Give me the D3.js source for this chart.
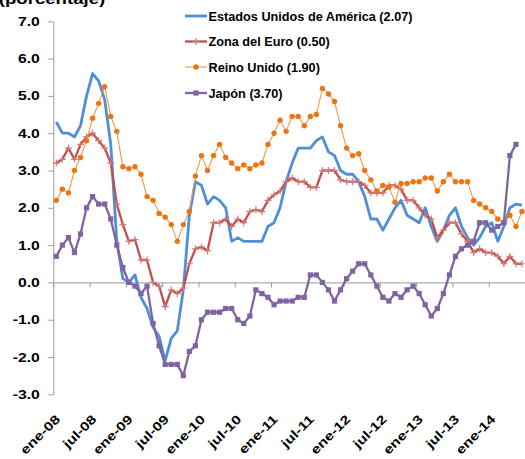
<!DOCTYPE html>
<html>
<head>
<meta charset="utf-8">
<script src="https://cdn.jsdelivr.net/npm/d3@7"></script>
<style>
  html, body { margin: 0; padding: 0; background: #fff; }
  svg { display: block; font-family: "Liberation Sans", Arial, sans-serif; }
</style>
</head>
<body>
<svg id="chart" width="525" height="459"></svg>
<script>
// ---- data ----
const monthNames = ["ene","feb","mar","abr","may","jun","jul","ago","sep","oct","nov","dic"];
const years = ["08","09","10","11","12","13","14"];
const months = [];
years.forEach(y => monthNames.forEach(m => months.push(m + "-" + y)));
months.splice(78); // ene-08 .. jun-14

const tickLabels = ["ene-08","jul-08","ene-09","jul-09","ene-10","jul-10","ene-11","jul-11","ene-12","jul-12","ene-13","jul-13","ene-14"];
const yTicks = [-3, -2, -1, 0, 1, 2, 3, 4, 5, 6, 7];

const seriesNames = ["Estados Unidos de América (2.07)", "Zona del Euro (0.50)", "Reino Unido (1.90)", "Japón (3.70)"];

const usa = [
  4.3, 4.0, 4.0, 3.9, 4.2, 5.0, 5.6, 5.4, 4.9, 3.7, 1.1, 0.1,
  0.0, 0.2, -0.4, -0.7, -1.2, -1.45, -2.1, -1.5, -1.3, -0.2, 1.8, 2.7,
  2.6, 2.1, 2.3, 2.2, 2.0, 1.1, 1.2, 1.1, 1.1, 1.1, 1.1, 1.5,
  1.6, 2.0, 2.7, 3.2, 3.6, 3.6, 3.6, 3.8, 3.9, 3.5, 3.4, 3.0,
  2.9, 2.9, 2.7, 2.3, 1.7, 1.7, 1.4, 1.7, 2.0, 2.2, 1.8, 1.7,
  1.6, 2.0, 1.5, 1.1, 1.4, 1.8, 2.0, 1.5, 1.2, 1.0, 1.2, 1.5,
  1.6, 1.1, 1.5, 2.0, 2.1, 2.07
];
const euro = [
  3.2, 3.3, 3.6, 3.3, 3.7, 3.9, 4.0, 3.8, 3.6, 3.2, 2.1, 1.55,
  1.1, 1.15, 0.6, 0.6, 0.0, -0.1, -0.65, -0.2, -0.3, -0.15, 0.5, 0.9,
  0.95, 0.85, 1.6, 1.6, 1.7, 1.5, 1.7, 1.6, 1.9, 1.95, 1.9, 2.2,
  2.35, 2.45, 2.7, 2.8, 2.7, 2.7, 2.55, 2.55, 3.0, 3.0, 3.0, 2.75,
  2.7, 2.7, 2.7, 2.6, 2.4, 2.4, 2.4, 2.6, 2.6, 2.5, 2.2, 2.2,
  2.0, 1.8, 1.7, 1.2, 1.4, 1.6, 1.6, 1.3, 1.1, 0.8, 0.9, 0.8,
  0.8, 0.7, 0.5, 0.7, 0.5, 0.5
];
const uk = [
  2.2, 2.5, 2.4, 3.0, 3.35, 3.8, 4.4, 4.8, 5.25, 4.45, 4.05, 3.1,
  3.05, 3.1, 2.9, 2.3, 2.2, 1.85, 1.75, 1.55, 1.1, 1.55, 1.9, 2.85,
  3.4, 3.0, 3.4, 3.7, 3.35, 3.2, 3.05, 3.15, 3.05, 3.15, 3.2, 3.7,
  4.0, 4.35, 4.05, 4.45, 4.45, 4.2, 4.45, 4.5, 5.2, 5.05, 4.85, 4.2,
  3.6, 3.4, 3.45, 3.0, 2.75, 2.45, 2.6, 2.55, 2.15, 2.65, 2.65, 2.7,
  2.7, 2.8, 2.8, 2.45, 2.7, 2.9, 2.7, 2.7, 2.7, 2.2, 2.1, 2.0,
  1.9, 1.7, 1.6, 1.8, 1.5, 1.9
];
const japan = [
  0.7, 1.0, 1.2, 0.8, 1.3, 2.0, 2.3, 2.1, 2.1, 1.7, 1.0, 0.4,
  0.0, -0.1, -0.3, -0.1, -1.1, -1.7, -2.2, -2.2, -2.2, -2.5, -1.85, -1.7,
  -1.0, -0.8, -0.8, -0.8, -0.7, -0.7, -1.0, -1.1, -0.9, -0.2, -0.3, -0.4,
  -0.6, -0.5, -0.5, -0.5, -0.4, -0.4, 0.2, 0.2, 0.0, -0.2, -0.5, -0.2,
  0.1, 0.3, 0.5, 0.5, 0.2, -0.1, -0.4, -0.5, -0.3, -0.4, -0.2, -0.1,
  -0.3, -0.6, -0.9, -0.7, -0.3, 0.2, 0.7, 0.9, 1.0, 1.1, 1.6, 1.6,
  1.4, 1.5, 1.6, 3.4, 3.7, null
];

// ---- layout ----
const svg = d3.select("#chart");
const plotLeft = 53.3, plotRight = 525, plotTop = 21.3, plotBottom = 394.3;
const axisColor = "#9a9a9a";
const fontStretch = 1.25;

const x = d3.scaleBand().domain(months).range([plotLeft, plotRight]).paddingInner(0).paddingOuter(0);
const cx = m => x(m) + x.bandwidth() / 2;
const y = d3.scaleLinear().domain([-3, 7]).range([plotBottom, plotTop]);

// title (partially cut off at top)
svg.append("text")
  .attr("x", -1).attr("y", 4)
  .attr("font-size", 15.5).attr("font-weight", "bold")
  .attr("transform", "scale(1.2,1)")
  .attr("fill", "#000")
  .text("(porcentaje)");

// y axis
const yAxis = svg.append("g")
  .attr("transform", `translate(${plotLeft},0)`)
  .call(d3.axisLeft(y).tickValues(yTicks).tickFormat(d => d.toFixed(1)).tickSize(5).tickSizeOuter(0));
yAxis.select(".domain").attr("stroke", axisColor);
yAxis.selectAll(".tick line").attr("stroke", axisColor);
yAxis.selectAll(".tick text")
  .attr("x", null)
  .attr("transform", `translate(-13.5,0) scale(${fontStretch},1)`)
  .attr("font-size", 12.6).attr("font-weight", "bold")
  .attr("font-family", "'Liberation Sans', Arial, sans-serif")
  .attr("fill", "#000");

// x axis at zero
const xTickScale = d3.scaleLinear().domain([0, months.length]).range([plotLeft, plotRight]);
const xAxis = svg.append("g")
  .attr("transform", `translate(0,${y(0)})`)
  .call(d3.axisBottom(xTickScale).tickValues(d3.range(0, months.length + 1, 6)).tickFormat("").tickSize(5).tickSizeOuter(0));
xAxis.select(".domain").attr("stroke", axisColor);
xAxis.selectAll(".tick line").attr("stroke", axisColor);

// x labels (low position, rotated)
svg.append("g").selectAll("text")
  .data(tickLabels)
  .join("text")
  .attr("transform", d => `translate(${cx(d) + 4.5},420) rotate(-45) scale(${fontStretch},1)`)
  .attr("text-anchor", "end")
  .attr("font-size", 12.6).attr("font-weight", "bold")
  .attr("fill", "#000")
  .text(d => d);

// ---- series ----
const colors = {
  usa: "#4F8FD6",
  euro: "#C0504D",
  euroMark: "#D47A78",
  ukLine: "#F79646",
  ukMark: "#EC7411",
  japan: "#8064A2"
};

const line = d3.line()
  .defined(d => d != null)
  .x((d, i) => cx(months[i]))
  .y(d => y(d));

function pts(arr) {
  return arr.map((v, i) => ({ m: months[i], v })).filter(d => d.v != null);
}

const g = svg.append("g");

// USA
g.append("path").datum(usa).attr("d", line)
  .attr("fill", "none").attr("stroke", colors.usa).attr("stroke-width", 2.8).attr("stroke-linejoin", "round");

// Euro
g.append("path").datum(euro).attr("d", line)
  .attr("fill", "none").attr("stroke", colors.euro).attr("stroke-width", 2.3).attr("stroke-linejoin", "round");
const plus = "M-3.5,0H3.5M0,-3.5V3.5";
g.append("g").selectAll("path").data(pts(euro)).join("path")
  .attr("transform", d => `translate(${cx(d.m)},${y(d.v)})`)
  .attr("d", plus).attr("stroke", colors.euroMark).attr("stroke-width", 1.2).attr("fill", "none");

// UK
g.append("path").datum(uk).attr("d", line)
  .attr("fill", "none").attr("stroke", colors.ukLine).attr("stroke-width", 1.1);
g.append("g").selectAll("circle").data(pts(uk)).join("circle")
  .attr("cx", d => cx(d.m)).attr("cy", d => y(d.v)).attr("r", 2.7)
  .attr("fill", colors.ukMark);

// Japan
g.append("path").datum(japan).attr("d", line)
  .attr("fill", "none").attr("stroke", colors.japan).attr("stroke-width", 2.3).attr("stroke-linejoin", "round");
g.append("g").selectAll("rect").data(pts(japan)).join("rect")
  .attr("x", d => cx(d.m) - 2.6).attr("y", d => y(d.v) - 2.6)
  .attr("width", 5.2).attr("height", 5.2)
  .attr("fill", colors.japan);

// ---- legend ----
const legendY = [16, 41.5, 67, 93];
const lg = svg.append("g");
const lx0 = 185, lx1 = 207, lxm = 196;
const legendStyles = [
  { stroke: colors.usa, w: 2.8, marker: null },
  { stroke: colors.euro, w: 2.3, marker: "plus" },
  { stroke: colors.ukLine, w: 1.1, marker: "circle" },
  { stroke: colors.japan, w: 2.3, marker: "square" }
];
seriesNames.forEach((name, i) => {
  const st = legendStyles[i];
  const yy = legendY[i];
  lg.append("line").attr("x1", lx0).attr("x2", lx1).attr("y1", yy).attr("y2", yy)
    .attr("stroke", st.stroke).attr("stroke-width", st.w);
  if (st.marker === "plus") {
    lg.append("path").attr("transform", `translate(${lxm},${yy})`).attr("d", plus)
      .attr("stroke", colors.euroMark).attr("stroke-width", 1.2);
  } else if (st.marker === "circle") {
    lg.append("circle").attr("cx", lxm).attr("cy", yy).attr("r", 2.7).attr("fill", colors.ukMark);
  } else if (st.marker === "square") {
    lg.append("rect").attr("x", lxm - 2.6).attr("y", yy - 2.6).attr("width", 5.2).attr("height", 5.2).attr("fill", colors.japan);
  }
  lg.append("text").attr("x", 208.5).attr("y", yy + 4.6)
    .attr("font-size", 12.7).attr("font-weight", "bold").attr("fill", "#000")
    .text(name);
});
</script>
</body>
</html>
